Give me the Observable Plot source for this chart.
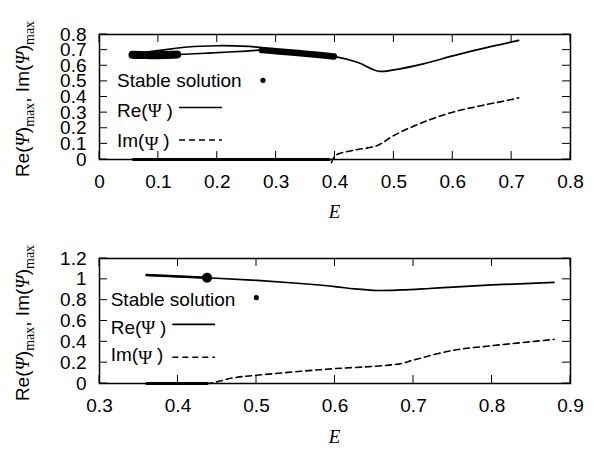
<!DOCTYPE html>
<html><head><meta charset="utf-8">
<script src="https://cdn.jsdelivr.net/npm/d3@7"></script>
<script src="https://cdn.jsdelivr.net/npm/@observablehq/plot@0.6"></script>
<style>body{margin:0;background:#fff}#c{width:594px;height:450px;line-height:0}svg{display:block}</style>
</head><body><div id="c"></div>
<script>
// ---------- tick labels ----------
const topXTicks = [0, 0.1, 0.2, 0.3, 0.4, 0.5, 0.6, 0.7, 0.8];
const topYTicks = [0, 0.1, 0.2, 0.3, 0.4, 0.5, 0.6, 0.7, 0.8];
const botXTicks = [0.3, 0.4, 0.5, 0.6, 0.7, 0.8, 0.9];
const botYTicks = [0, 0.2, 0.4, 0.6, 0.8, 1, 1.2];

// ---------- top panel data ----------
// Re(Psi)max: upper branch (right to left), then lower branch and continuation
const topReE = [0.285, 0.26, 0.23, 0.2, 0.15, 0.107, 0.075, 0.052, 0.08, 0.11, 0.135, 0.18, 0.22, 0.25, 0.274, 0.3, 0.35, 0.40, 0.438, 0.474, 0.5, 0.55, 0.6, 0.65, 0.712];
const topReV = [0.712, 0.722, 0.727, 0.728, 0.72, 0.70, 0.685, 0.671, 0.668, 0.669, 0.672, 0.68, 0.688, 0.694, 0.70, 0.693, 0.677, 0.658, 0.622, 0.565, 0.574, 0.612, 0.663, 0.71, 0.762];
// Im(Psi)max
const topImZeroE = [0.055, 0.39];
const topImZeroV = [0, 0];
const topImE = [0.394, 0.401, 0.43, 0.472, 0.5, 0.55, 0.6, 0.65, 0.7, 0.712];
const topImV = [-0.02, 0.026, 0.058, 0.09, 0.154, 0.239, 0.303, 0.346, 0.384, 0.395];
// stable solutions (dense dots)
const topStable1E = [0.056, 0.08, 0.11, 0.132];
const topStable1V = [0.670, 0.668, 0.669, 0.672];
const topStable2E = [0.276, 0.30, 0.35, 0.398];
const topStable2V = [0.700, 0.693, 0.677, 0.659];
const topStableImE = [0.058, 0.39];
const topStableImV = [0, 0];

// ---------- bottom panel data ----------
const botReE = [0.36, 0.437, 0.5, 0.556, 0.6, 0.625, 0.654, 0.684, 0.72, 0.75, 0.8, 0.879];
const botReV = [1.041, 1.015, 0.99, 0.96, 0.93, 0.908, 0.893, 0.898, 0.912, 0.925, 0.946, 0.97];
const botImE = [0.36, 0.437, 0.471, 0.5, 0.556, 0.6, 0.65, 0.684, 0.7, 0.75, 0.8, 0.879];
const botImV = [0, 0, 0.055, 0.079, 0.117, 0.143, 0.165, 0.191, 0.225, 0.318, 0.363, 0.423];
const botStableReE = [0.36, 0.437];
const botStableReV = [1.041, 1.015];
const botStableImE = [0.36, 0.437];
const botStableImV = [0, 0];
const botStableDotE = [0.437];
const botStableDotV = [1.015];

const rows = (E, V) => E.map((e, i) => ({e, v: V[i]}));
const SANS = "Liberation Sans, Arial, sans-serif";
const SERIF = "Liberation Serif, Times New Roman, serif";

function panel(cfg) {
  const marks = [
    Plot.axisX({ticks: cfg.xt, tickSize: 0, tickPadding: 15, tickFormat: d => String(d), label: null, fontSize: 19, fill: "#000"}),
    Plot.axisY({ticks: cfg.yt, tickSize: 0, tickPadding: 13, tickFormat: d => String(d), label: null, fontSize: 19, fill: "#000"}),
    ...cfg.im.map(r => Plot.line(r, {x: "e", y: "v", stroke: "#000", strokeWidth: 1.6, strokeDasharray: "6,4", curve: "catmull-rom"})),
    Plot.line(cfg.re, {x: "e", y: "v", stroke: "#000", strokeWidth: 1.7, curve: "catmull-rom"}),
    ...cfg.stable.map(s => Plot.line(s.d, {x: "e", y: "v", stroke: "#000", strokeWidth: s.w, strokeLinecap: "round", curve: "catmull-rom"})),
    ...(cfg.dots ? [Plot.dot(cfg.dots, {x: "e", y: "v", r: 5, fill: "#000"})] : []),
    Plot.frame({stroke: "#000", strokeWidth: 1.5})
  ];
  const p = Plot.plot({
    width: 594, height: 225,
    marginTop: cfg.mt, marginBottom: cfg.mb, marginLeft: 99, marginRight: 24,
    style: {fontFamily: SANS, fontSize: "19px", color: "#000", background: "#fff", overflow: "visible"},
    x: {domain: cfg.xd}, y: {domain: cfg.yd},
    marks
  });
  const sx = p.scale("x"), sy = p.scale("y");
  const L = sx.apply(cfg.xd[0]), R = sx.apply(cfg.xd[1]);
  const B = sy.apply(cfg.yd[0]), T = sy.apply(cfg.yd[1]);
  const svg = d3.select(p);
  const g = svg.append("g").attr("stroke", "#000").attr("stroke-width", 1);
  cfg.xt.forEach(v => {
    const x = sx.apply(v);
    g.append("line").attr("x1", x).attr("x2", x).attr("y1", B).attr("y2", B - 8);
    g.append("line").attr("x1", x).attr("x2", x).attr("y1", T).attr("y2", T + 8);
  });
  cfg.yt.forEach(v => {
    const y = sy.apply(v);
    g.append("line").attr("x1", L).attr("x2", L + 8).attr("y1", y).attr("y2", y);
    g.append("line").attr("x1", R).attr("x2", R - 8).attr("y1", y).attr("y2", y);
  });
  // x label
  svg.append("text").attr("x", (L + R) / 2).attr("y", 218).attr("text-anchor", "middle")
    .attr("font-family", SERIF).attr("font-style", "italic").attr("font-size", 19).attr("fill", "#000").text("E");
  // y label
  const yl = svg.append("text").attr("transform", `translate(29,${cfg.ylc}) rotate(-90)`)
    .attr("text-anchor", "middle").attr("font-family", SANS).attr("font-size", 19).attr("fill", "#000");
  const part = (t, o = {}) => {
    const s = yl.append("tspan").text(t);
    Object.entries(o).forEach(([k, v]) => s.attr(k, v));
  };
  part("Re(");
  part("Ψ", {"font-family": SERIF, "font-style": "italic"});
  part(")");
  part("max", {"font-family": SERIF, "font-size": 14, dy: 5});
  part(", Im(", {dy: -5});
  part("Ψ", {"font-family": SERIF, "font-style": "italic"});
  part(")");
  part("max", {"font-family": SERIF, "font-size": 14, dy: 5});
  // legend
  const lg = cfg.lg;
  const lt = (x, y) => svg.append("text").attr("x", x).attr("y", y).attr("text-anchor", "start")
    .attr("font-family", SANS).attr("font-size", 19).attr("fill", "#000");
  lt(lg.x, lg.y1).text("Stable solution");
  svg.append("circle").attr("cx", lg.dotX).attr("cy", lg.dotY).attr("r", 2.6).attr("fill", "#000");
  const t2 = lt(lg.x, lg.y2); t2.append("tspan").text("Re(");
  t2.append("tspan").attr("font-family", SERIF).text("Ψ "); t2.append("tspan").text(")");
  svg.append("line").attr("x1", lg.l1).attr("x2", lg.l2).attr("y1", lg.ly2).attr("y2", lg.ly2).attr("stroke", "#000").attr("stroke-width", 1.7);
  const t3 = lt(lg.x, lg.y3); t3.append("tspan").text("Im(");
  t3.append("tspan").attr("font-family", SERIF).attr("dy", 3).text("Ψ "); t3.append("tspan").attr("dy", -3).text(")");
  svg.append("line").attr("x1", lg.l1).attr("x2", lg.l2).attr("y1", lg.ly3).attr("y2", lg.ly3).attr("stroke", "#000").attr("stroke-width", 1.6).attr("stroke-dasharray", "6,4");
  return p;
}

const c = document.getElementById("c");
c.appendChild(panel({
  mt: 34, mb: 66, xd: [0, 0.8], yd: [0, 0.8], xt: topXTicks, yt: topYTicks, ylc: 99,
  re: rows(topReE, topReV),
  im: [rows(topImZeroE, topImZeroV), rows(topImE, topImV)],
  stable: [{d: rows(topStable1E, topStable1V), w: 8}, {d: rows(topStable2E, topStable2V), w: 6.5}, {d: rows(topStableImE, topStableImV), w: 3}],
  lg: {x: 117, y1: 87.3, y2: 116.7, y3: 146.5, dotX: 263, dotY: 80.3, l1: 179, l2: 222, ly2: 107.5, ly3: 140}
}));
c.appendChild(panel({
  mt: 33, mb: 67, xd: [0.3, 0.9], yd: [0, 1.2], xt: botXTicks, yt: botYTicks, ylc: 98,
  re: rows(botReE, botReV),
  im: [rows(botImE, botImV)],
  stable: [{d: rows(botStableReE, botStableReV), w: 2.6}, {d: rows(botStableImE, botStableImV), w: 3}],
  dots: rows(botStableDotE, botStableDotV),
  lg: {x: 110.7, y1: 81, y2: 108.5, y3: 136, dotX: 256.3, dotY: 72.7, l1: 172.3, l2: 215, ly2: 99.3, ly3: 132.3}
}));
</script>
</body></html>
